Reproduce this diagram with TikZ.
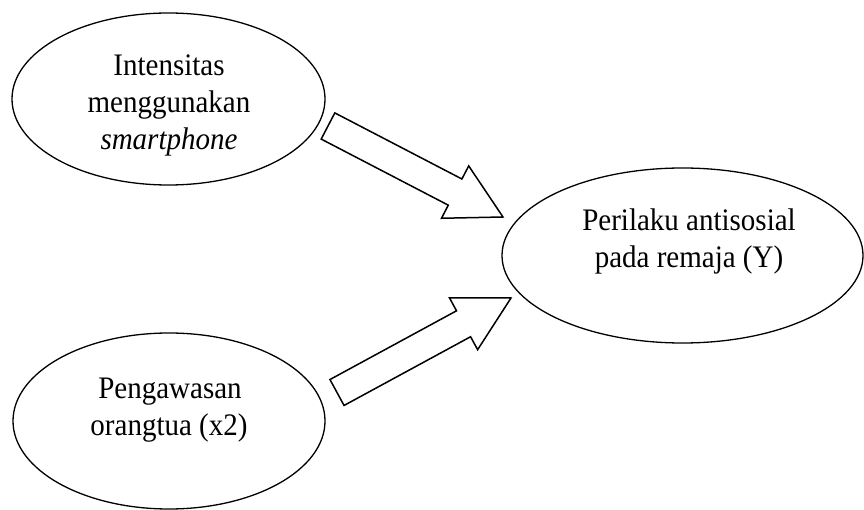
\documentclass[tikz,border=0pt]{standalone}
\usepackage{fontspec}
\setmainfont{Liberation Serif}
\usetikzlibrary{shapes.geometric,calc}
\tikzset{
  var/.style={ellipse, draw=black, line width=1.3pt, inner sep=0pt},
  lbl/.style={anchor=base, inner sep=0pt, font=\fontsize{29}{37}\selectfont},
  blockarr/.style={draw=black, line width=1.5pt, line join=miter, fill=white}
}
\newcommand\tall[1]{\scalebox{1}[1.08]{#1}}
\newcommand\blockarrow[2]{%
  \coordinate (hb#1#2) at ($(#2)!54pt!(#1)$);
  \draw[blockarr] ($(#1)!14.75pt!90:(#2)$) -- ($(hb#1#2)!14.75pt!90:(#2)$)
    -- ($(hb#1#2)!29.5pt!90:(#2)$) -- (#2)
    -- ($(hb#1#2)!29.5pt!-90:(#2)$) -- ($(hb#1#2)!14.75pt!-90:(#2)$)
    -- ($(#1)!14.75pt!-90:(#2)$) -- cycle;}
\begin{document}
\begin{tikzpicture}[x=1pt,y=-1pt]
\useasboundingbox (0,0) rectangle (864,510);
% ellipses
\node[var, minimum width=313pt, minimum height=172pt] (x1) at (168.5,99) {};
\node[var, minimum width=361pt, minimum height=175pt] (y) at (682.5,255.5) {};
\node[var, minimum width=312pt, minimum height=176pt] (x2) at (169,421) {};
% labels
\node[lbl] (x1a) at (169,76) {\tall{Intensitas}};
\node[lbl] (x1b) at (169,113) {\tall{menggunakan}};
\node[lbl] (x1c) at (169,150) {\tall{\itshape smartphone}};
\node[lbl] (ya) at (689,231) {\tall{Perilaku antisosial}};
\node[lbl] (yb) at (689,268) {\tall{pada remaja (Y)}};
\node[lbl] (x2a) at (170,398) {\tall{Pengawasan}};
\node[lbl] (x2b) at (169,435) {\tall{orangtua (x2)}};
% block arrows
\coordinate (t1) at (328,126);
\coordinate (p1) at (503,217);
\coordinate (t2) at (337,392.5);
\coordinate (p2) at (511,298);
\blockarrow{t1}{p1}
\blockarrow{t2}{p2}
\end{tikzpicture}
\end{document}
